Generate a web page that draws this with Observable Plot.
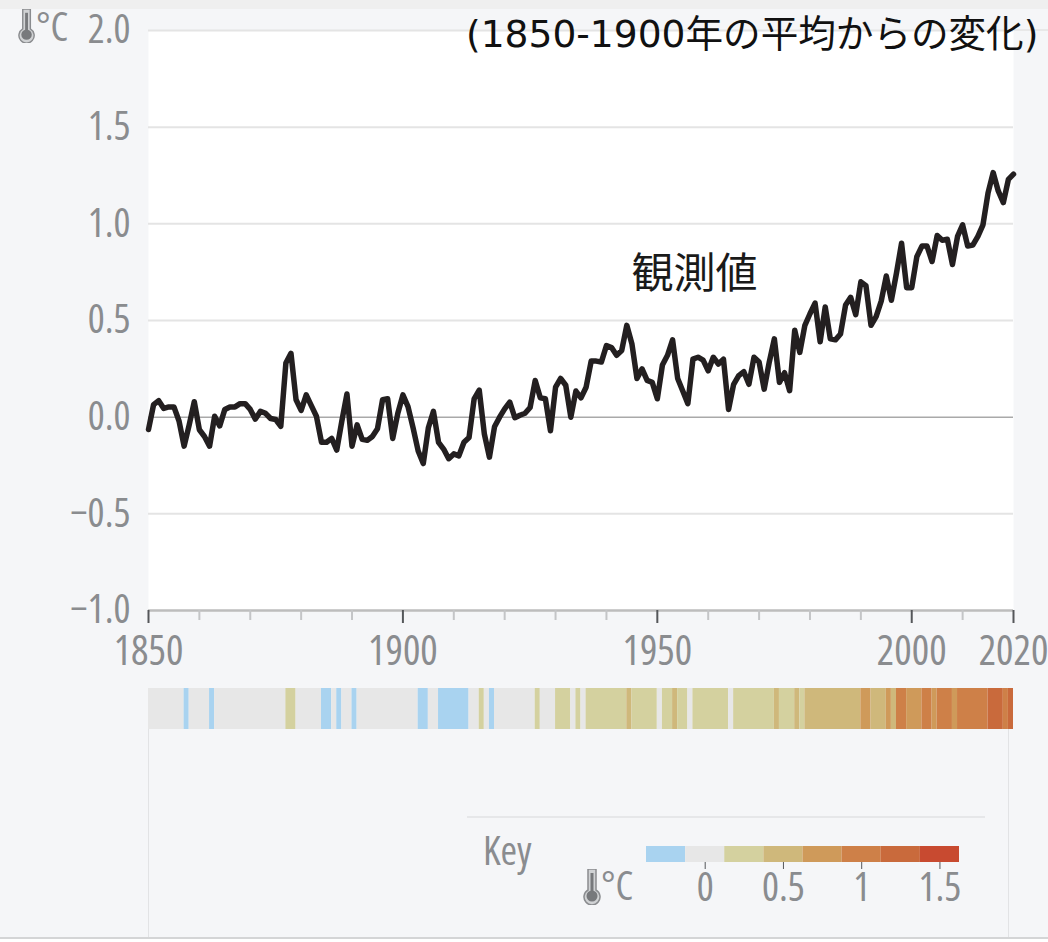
<!DOCTYPE html>
<html><head><meta charset="utf-8">
<script src="https://cdn.jsdelivr.net/npm/d3@7"></script>
<script src="https://cdn.jsdelivr.net/npm/@observablehq/plot@0.6"></script>
<style>
html,body{margin:0;padding:0;background:#f5f6f8;}
#page{position:relative;width:1048px;height:942px;overflow:hidden;background:#f5f6f8;}
#page>div{position:absolute;}
.plot{left:0;}
.plot svg{display:block;background:transparent;font-stretch:75%;}
.plot svg text{font-stretch:75%;}
.t{font-family:"Open Sans",sans-serif;font-stretch:75%;color:#8a8c8f;font-size:40px;line-height:1;}
</style></head><body><div id="page"></div>
<script>
const firstYear = 1850, lastYear = 2020;
const anomalies = [
-0.064,0.065,0.085,0.045,0.053,0.053,-0.02,-0.15,-0.04,0.08,
-0.065,-0.1,-0.15,0.005,-0.045,0.04,0.053,0.053,0.07,0.07,
0.04,-0.01,0.03,0.02,-0.007,-0.012,-0.047,0.28,0.33,0.09,
0.035,0.115,0.06,0.005,-0.13,-0.13,-0.11,-0.17,-0.02,0.12,
-0.15,-0.04,-0.115,-0.12,-0.1,-0.06,0.09,0.095,-0.11,0.02,
0.115,0.055,-0.055,-0.175,-0.24,-0.055,0.03,-0.13,-0.165,-0.215,
-0.19,-0.2,-0.13,-0.105,0.095,0.14,-0.086,-0.207,-0.05,0,
0.043,0.078,-0.003,0.01,0.02,0.05,0.19,0.1,0.095,-0.07,
0.155,0.2,0.165,0,0.135,0.1,0.155,0.29,0.29,0.285,
0.37,0.36,0.32,0.345,0.475,0.38,0.2,0.25,0.19,0.18,
0.095,0.27,0.32,0.4,0.2,0.135,0.07,0.3,0.31,0.295,
0.24,0.31,0.275,0.3,0.04,0.17,0.215,0.235,0.17,0.31,
0.285,0.145,0.285,0.405,0.18,0.23,0.137,0.45,0.335,0.475,
0.535,0.59,0.39,0.57,0.405,0.4,0.43,0.58,0.62,0.53,
0.7,0.68,0.475,0.52,0.6,0.73,0.605,0.745,0.9,0.67,
0.67,0.83,0.885,0.885,0.805,0.94,0.915,0.92,0.79,0.935,
0.995,0.885,0.89,0.935,0.995,1.16,1.265,1.17,1.11,1.23,1.257];
const years = d3.range(firstYear, lastYear + 1);
const yTicks = [-1,-0.5,0,0.5,1,1.5,2];
const majorYears = [1850,1900,1950,2000,2020];
const minorYears = [1860,1870,1880,1890,1910,1920,1930,1940,1960,1970,1980,1990,2010];
const stripeFrom = [1850,1857,1858,1862,1863,1877,1879,1884,1886,1887,1888,1890,1891,1903,1905,1907,1913,1915,1916,1917,1918,1926,1927,1930,1933,1934,1935,1936,1944,1945,1950,1951,1953,1954,1956,1957,1964,1965,1973,1974,1977,1978,1979,1990,1992,1995,1996,1997,1999,2002,2004,2005,2008,2009,2015,2018,2019];
const stripeTo   = [1857,1858,1862,1863,1877,1879,1884,1886,1887,1888,1890,1891,1903,1905,1907,1913,1915,1916,1917,1918,1926,1927,1930,1933,1934,1935,1936,1944,1945,1950,1951,1953,1954,1956,1957,1964,1965,1973,1974,1977,1978,1979,1990,1992,1995,1996,1997,1999,2002,2004,2005,2008,2009,2015,2018,2019,2020];
const stripeLevel= [0,-1,0,-1,0,1,0,-1,0,-1,0,-1,0,-1,0,-1,0,1,0,-1,0,1,0,1,0,1,0,1,2,1,0,1,2,1,0,1,0,1,2,1,2,1,2,3,2,3,2,4,3,4,3,4,3,4,5,4,5];
const levels = [-1,0,1,2,3,4,5,6];
const levelColors = ["#a9d3f0","#e7e7e7","#d4d19f","#cfb87b","#cf9a5a","#ce8048","#c96a3c","#c84a30"];
const keyEdges = [-0.375,-0.125,0.125,0.375,0.625,0.875,1.125,1.375,1.625];
const keyTicks = [0,0.5,1,1.5];
const keyLabels = ["0","0.5","1","1.5"];
const seriesLabel = "観測値", seriesLabelYear = 1957.3, seriesLabelValue = 0.74;
const titleText = "(1850-1900年の平均からの変化)";

const page = document.getElementById("page");
const fontAxis = `"Open Sans",sans-serif`;
const axisGrey = "#8a8c8f";
const colorScale = {type:"ordinal", domain:levels, range:levelColors};
const xScale = {domain:[firstYear,lastYear]};

function add(html, css){const d=document.createElement("div");d.style.cssText=css;d.innerHTML=html;page.appendChild(d);return d;}
function addPlot(node, top){const d=document.createElement("div");d.className="plot";d.style.top=top+"px";d.appendChild(node);page.appendChild(d);}
const thermo = (x,y,s)=>`<svg style="position:absolute;left:${x}px;top:${y}px" width="${18*s}" height="${36*s}" viewBox="0 0 18 36"><path d="M5 0h8v21a8 8 0 1 1-8 0z" fill="#d0d2d4" stroke="#8a8c8f" stroke-width="1.5"/><rect x="7.5" y="4" width="3" height="20" fill="#77797c"/><circle cx="9" cy="27" r="5.5" fill="#77797c"/></svg>`;

add("", "left:0;top:0;width:1048px;height:9px;background:#efefef");
add("", "left:148px;top:729px;width:1px;height:213px;background:#e2e3e5");
add("", "left:1008px;top:729px;width:1px;height:208px;background:#e2e3e5");
add("", "left:467px;top:816px;width:518px;height:2px;background:#e6e7e9");
add("", "left:0;top:937px;width:1048px;height:2px;background:#d4d5d6");
add("", "left:0;top:939px;width:1048px;height:3px;background:#fff");
add("", "left:1013px;top:29px;width:35px;height:2px;background:#e8e8e8");

const table = years.map((year,i)=>({year,value:anomalies[i]}));
const main = Plot.plot({
  width:1048, height:680, marginLeft:148, marginRight:35, marginTop:30, marginBottom:70,
  style:{background:"transparent", fontFamily:fontAxis, overflow:"visible"},
  x:{...xScale, axis:null}, y:{domain:[-1,2], axis:null},
  marks:[
    Plot.frame({fill:"#fff", stroke:null}),
    Plot.ruleY(yTicks.filter(d=>d!==0 && d!==-1), {stroke:"#e4e4e4", strokeWidth:2}),
    Plot.ruleY([0], {stroke:"#a9a9a9", strokeWidth:1.5}),
    Plot.ruleY([-1], {stroke:"#bdbdbd", strokeWidth:2.5}),
    Plot.axisY({ticks:yTicks, tickSize:0, tickPadding:18, fontSize:40, fill:axisGrey, label:null,
      tickFormat:d=>(d<0?"−":"")+Math.abs(d).toFixed(1)}),
    Plot.axisX({ticks:minorYears, tickSize:10, tickFormat:()=>"", stroke:"#c4c5c7", strokeWidth:2, label:null}),
    Plot.axisX({ticks:majorYears, tickSize:13, tickPadding:12, tickFormat:d=>String(d), fontSize:41, fill:axisGrey, stroke:"#55575a", strokeWidth:2, label:null}),
    Plot.line(table, {x:"year", y:"value", stroke:"#231f20", strokeWidth:5.5, strokeLinejoin:"round", curve:"linear"}),
    Plot.text([seriesLabel], {x:()=>seriesLabelYear, y:()=>seriesLabelValue, text:d=>d, fontSize:42, fill:"#1a1a1a", fontFamily:`"Noto Sans CJK JP",sans-serif`})
  ]
});
addPlot(main,0);

const stripes = Plot.plot({
  width:1048, height:41, marginLeft:148, marginRight:35, marginTop:0, marginBottom:0,
  style:{background:"transparent"},
  x:{...xScale, axis:null}, color:colorScale,
  marks:[Plot.rect(stripeFrom.map((from,i)=>({from,to:stripeTo[i],level:stripeLevel[i]})), {x1:"from", x2:"to", fill:"level"})]
});
addPlot(stripes,688);

const keyRows = levels.map((level,i)=>({level,a:keyEdges[i],b:keyEdges[i+1]}));
const key = Plot.plot({
  width:1048, height:64, marginLeft:646, marginRight:89, marginTop:0, marginBottom:48,
  style:{background:"transparent", fontFamily:fontAxis, overflow:"visible"},
  x:{domain:[keyEdges[0],keyEdges[keyEdges.length-1]], axis:null}, color:colorScale,
  marks:[
    Plot.rect(keyRows, {x1:"a", x2:"b", fill:"level"}),
    Plot.axisX({ticks:keyTicks, tickSize:7, tickPadding:3, fontSize:40, fill:axisGrey, stroke:"#55575a", tickFormat:d=>keyLabels[keyTicks.indexOf(d)], label:null})
  ]
});
addPlot(key,846);

add(thermo(18,9,0.95), "left:0;top:0;width:1px;height:1px");
add("°C", `left:36px;top:6px;color:${axisGrey};font-size:40px;line-height:1;font-stretch:75%;font-family:"Open Sans",sans-serif`);
add(thermo(583,869,1.0), "left:0;top:0;width:1px;height:1px");
add("°C", `left:601px;top:865px;color:${axisGrey};font-size:40px;line-height:1;font-stretch:75%;font-family:"Open Sans",sans-serif`);
add("Key", `left:483px;top:830px;color:${axisGrey};font-size:40px;line-height:1;font-stretch:75%;font-family:"Open Sans",sans-serif`);
add(titleText, `left:466px;top:12px;color:#111;font-size:37.6px;line-height:1.2;white-space:nowrap;font-family:"DejaVu Sans","Noto Sans CJK JP",sans-serif`);
</script></body></html>
